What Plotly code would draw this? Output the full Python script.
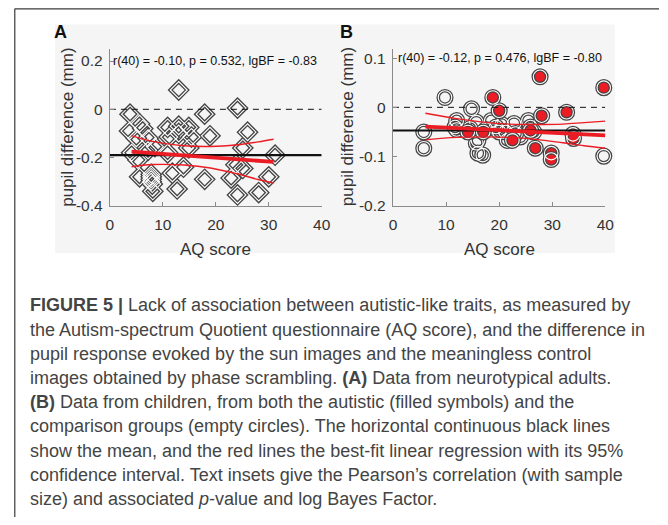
import plotly.graph_objects as go

W, H = 668, 525
def px(x): return x / W
def py(y): return 1 - y / H

# ---------------- Data ----------------
# Panel A: neurotypical adults
a_aq = [3.8, 3.7, 4.1, 5.6, 6.2, 5.0, 7.2, 5.3, 5.6, 7.2, 7.8, 7.8, 7.8, 7.8, 8.0, 8.1, 8.5,
        10.9, 11.2, 10.9, 11.8, 13.0, 13.0, 12.7, 13.9, 14.9, 14.9, 15.4, 13.0, 17.9, 18.9, 17.9,
        24.1, 26.0, 25.1, 23.8, 25.1, 22.9, 24.1, 28.1, 30.0, 31.2]
a_pupil = [-0.02, -0.09, -0.18, -0.06, -0.08, -0.12, -0.12, -0.21, -0.28, -0.17, -0.27, -0.28,
           -0.29, -0.30, -0.31, -0.34, -0.155, -0.075, -0.115, -0.18, -0.265, -0.07, -0.10, -0.33,
           -0.24, -0.075, -0.16, -0.115, 0.08, -0.02, -0.11, -0.29, 0.005, -0.095, -0.16, -0.23,
           -0.245, -0.285, -0.355, -0.345, -0.28, -0.19]
a_mean = -0.19
a_fit_x = [4.1, 30.9]
a_fit_y = [-0.175, -0.218]
a_ci_x = [4.1, 8, 14, 19, 24, 28, 30.9]
a_ci_up = [-0.109, -0.133, -0.151, -0.154, -0.147, -0.135, -0.124]
a_ci_lo = [-0.238, -0.229, -0.231, -0.243, -0.267, -0.291, -0.306]
a_stats = "r(40) = -0.10, p = 0.532, lgBF = -0.83"

# Panel B: children - comparison (open) and autistic (filled)
b_ctrl_aq = [9.8, 5.8, 5.8, 14.8, 12.0, 11.7, 12.0, 15.7, 16.0, 15.7, 16.0, 16.9, 18.5, 19.4,
             20.0, 21.2, 21.5, 22.8, 23.1, 25.5, 25.9, 39.7, 14.5, 17.5, 24.0, 26.5, 20.5]
b_ctrl_pupil = [0.02, -0.05, -0.083, -0.003, -0.027, -0.04, -0.045, -0.03, -0.067, -0.073, -0.093,
                -0.097, -0.027, -0.04, -0.05, -0.05, -0.067, -0.033, -0.053, -0.027, -0.04, -0.099,
                -0.043, -0.045, -0.06, -0.05, -0.035]
b_aut_aq = [27.7, 39.7, 18.8, 20.0, 28.0, 32.7, 14.1, 17.0, 22.5, 25.9, 26.8, 29.8, 29.8, 33.9, 34.0]
b_aut_pupil = [0.062, 0.04, 0.02, -0.007, -0.017, -0.01, -0.05, -0.05, -0.067, -0.047, -0.083,
               -0.093, -0.106, -0.055, -0.063]
b_mean = -0.047
b_fit_x = [6.1, 40]
b_fit_y = [-0.039, -0.057]
b_ci_x = [6.1, 12, 17, 22, 27, 32, 36, 40]
b_ci_up = [-0.012, -0.023, -0.030, -0.034, -0.035, -0.034, -0.031, -0.028]
b_ci_lo = [-0.066, -0.061, -0.060, -0.061, -0.065, -0.072, -0.078, -0.083]
b_stats = "r(40) = -0.12, p = 0.476, lgBF = -0.80"

x_ticks = [0, 10, 20, 30, 40]
a_yticks = [0.2, 0, -0.2, -0.4]
a_yticktext = ["0.2", "0", "-0.2", "-0.4"]
b_yticks = [0.1, 0, -0.1, -0.2]
b_yticktext = ["0.1", "0", "-0.1", "-0.2"]

caption_lines = [
    "<b>FIGURE 5 |</b> Lack of association between autistic-like traits, as measured by",
    "the Autism-spectrum Quotient questionnaire (AQ score), and the difference in",
    "pupil response evoked by the sun images and the meaningless control",
    "images obtained by phase scrambling. <b>(A)</b> Data from neurotypical adults.",
    "<b>(B)</b> Data from children, from both the autistic (filled symbols) and the",
    "comparison groups (empty circles). The horizontal continuous black lines",
    "show the mean, and the red lines the best-fit linear regression with its 95%",
    "confidence interval. Text insets give the Pearson\u2019s correlation (with sample",
    "size) and associated <i>p</i>-value and log Bayes Factor.",
]

# ---------------- Styles ----------------
FONT = "Liberation Sans, Arial, sans-serif"
MK = "#444444"
RED = "#ec1c24"
AXC = "#8a8a8a"

fig = go.Figure()

# Panel A markers (diamonds)
fig.add_trace(go.Scatter(x=a_aq, y=a_pupil, mode="markers", xaxis="x", yaxis="y", cliponaxis=False,
                         marker=dict(symbol="diamond-open", size=13, color=MK, line=dict(width=3.8))))
fig.add_trace(go.Scatter(x=a_aq, y=a_pupil, mode="markers", xaxis="x", yaxis="y", cliponaxis=False,
                         marker=dict(symbol="diamond-open", size=13, color="white", line=dict(width=1.1))))

# Panel B markers: comparison (open), autistic (filled red)
fig.add_trace(go.Scatter(x=b_ctrl_aq, y=b_ctrl_pupil, mode="markers", xaxis="x2", yaxis="y2", cliponaxis=False,
                         marker=dict(symbol="circle-open", size=13.5, color=MK, line=dict(width=3.6))))
fig.add_trace(go.Scatter(x=b_ctrl_aq, y=b_ctrl_pupil, mode="markers", xaxis="x2", yaxis="y2", cliponaxis=False,
                         marker=dict(symbol="circle-open", size=13.5, color="white", line=dict(width=1.1))))
fig.add_trace(go.Scatter(x=b_aut_aq, y=b_aut_pupil, mode="markers", xaxis="x2", yaxis="y2", cliponaxis=False,
                         marker=dict(symbol="circle", size=13.5, color=RED, line=dict(width=3.6, color=MK))))
fig.add_trace(go.Scatter(x=b_aut_aq, y=b_aut_pupil, mode="markers", xaxis="x2", yaxis="y2", cliponaxis=False,
                         marker=dict(symbol="circle-open", size=13.5, color="white", line=dict(width=1.1))))

for xa, ya, mean, fx, fy, cx, cup, clo, mw in [
        ("x", "y", a_mean, a_fit_x, a_fit_y, a_ci_x, a_ci_up, a_ci_lo, 2.2),
        ("x2", "y2", b_mean, b_fit_x, b_fit_y, b_ci_x, b_ci_up, b_ci_lo, 1.8)]:
    fig.add_trace(go.Scatter(x=[0, 40], y=[0, 0], mode="lines", xaxis=xa, yaxis=ya,
                             line=dict(color="#111", width=1, dash="6px,5px")))
    fig.add_trace(go.Scatter(x=[0, 40], y=[mean, mean], mode="lines", xaxis=xa, yaxis=ya,
                             line=dict(color="#111", width=mw)))
    fig.add_trace(go.Scatter(x=cx, y=cup, mode="lines", xaxis=xa, yaxis=ya,
                             line=dict(color=RED, width=1.4, shape="spline")))
    fig.add_trace(go.Scatter(x=cx, y=clo, mode="lines", xaxis=xa, yaxis=ya,
                             line=dict(color=RED, width=1.4, shape="spline")))
    fig.add_trace(go.Scatter(x=fx, y=fy, mode="lines", xaxis=xa, yaxis=ya,
                             line=dict(color=RED, width=3.8)))

ax_common = dict(showgrid=False, zeroline=False, showline=True, linecolor=AXC, linewidth=1.2,
                 ticks="inside", ticklen=4, tickcolor=AXC, tickwidth=1,
                 tickfont=dict(family=FONT, size=15.5, color="#333"))
y_dom = [py(209), py(50)]
fig.update_layout(
    width=W, height=H, autosize=False, showlegend=False,
    margin=dict(l=0, r=0, t=0, b=0),
    paper_bgcolor="white", plot_bgcolor="rgba(0,0,0,0)",
    xaxis=dict(domain=[px(108), px(324)], range=[0, 40], tickvals=x_ticks, anchor="y",
               ticklabelstandoff=4, **ax_common),
    yaxis=dict(domain=y_dom, range=[-0.4, 0.249], tickvals=a_yticks, ticktext=a_yticktext,
               anchor="x", ticklabelstandoff=3, **ax_common),
    xaxis2=dict(domain=[px(396.7), px(613.3)], range=[0, 40], tickvals=x_ticks, anchor="y2",
                ticklabelstandoff=4, **ax_common),
    yaxis2=dict(domain=y_dom, range=[-0.2, 0.118], tickvals=b_yticks, ticktext=b_yticktext,
                anchor="x2", ticklabelstandoff=3, **ax_common),
)

shapes = [
    dict(type="rect", xref="paper", yref="paper", x0=px(52), x1=px(623), y0=py(257), y1=py(25),
         fillcolor="#f5f5f5", line=dict(width=0), layer="below"),
    dict(type="line", xref="paper", yref="paper", x0=px(11), x1=1, y0=py(9), y1=py(9),
         line=dict(color="#3a3a3a", width=1.2)),
    dict(type="line", xref="paper", yref="paper", x0=px(11), x1=px(11), y0=py(9), y1=0,
         line=dict(color="#3a3a3a", width=1.2)),
]
fig.update_layout(shapes=shapes)

ann = []
# panel letters
ann.append(dict(text="<b>A</b>", x=px(49), y=py(33), xanchor="left", yanchor="middle"))
ann.append(dict(text="<b>B</b>", x=px(341), y=py(33), xanchor="left", yanchor="middle"))
for a in ann:
    a.update(xref="paper", yref="paper", showarrow=False, font=dict(family=FONT, size=18, color="#111"))
# stats insets
ann.append(dict(text=a_stats, x=0.2, y=0.2, xref="x", yref="y", xanchor="left", yanchor="middle",
                showarrow=False, font=dict(family=FONT, size=12.5, color="#111")))
ann.append(dict(text=b_stats, x=0.6, y=0.1, xref="x2", yref="y2", xanchor="left", yanchor="middle",
                showarrow=False, font=dict(family=FONT, size=12.5, color="#111")))
# axis titles
for cx_, cy_ in [(64, 129), (350, 129)]:
    ann.append(dict(text="pupil difference (mm)", x=px(cx_), y=py(cy_), xref="paper", yref="paper",
                    textangle=-90, showarrow=False, xanchor="center", yanchor="middle",
                    font=dict(family=FONT, size=17, color="#333")))
for cx_ in [216, 505]:
    ann.append(dict(text="AQ score", x=px(cx_), y=py(253), xref="paper", yref="paper",
                    showarrow=False, xanchor="center", yanchor="middle",
                    font=dict(family=FONT, size=17, color="#333")))
# caption
for i, line in enumerate(caption_lines):
    ann.append(dict(text=line, x=px(24), y=py(310 + 24.6 * i), xref="paper", yref="paper",
                    showarrow=False, xanchor="left", yanchor="middle",
                    font=dict(family=FONT, size=18, color="#444")))
fig.update_layout(annotations=ann)

fig.write_html("out.html", config={"staticPlot": True, "displayModeBar": False},
               post_script="document.body.style.margin='0';")
